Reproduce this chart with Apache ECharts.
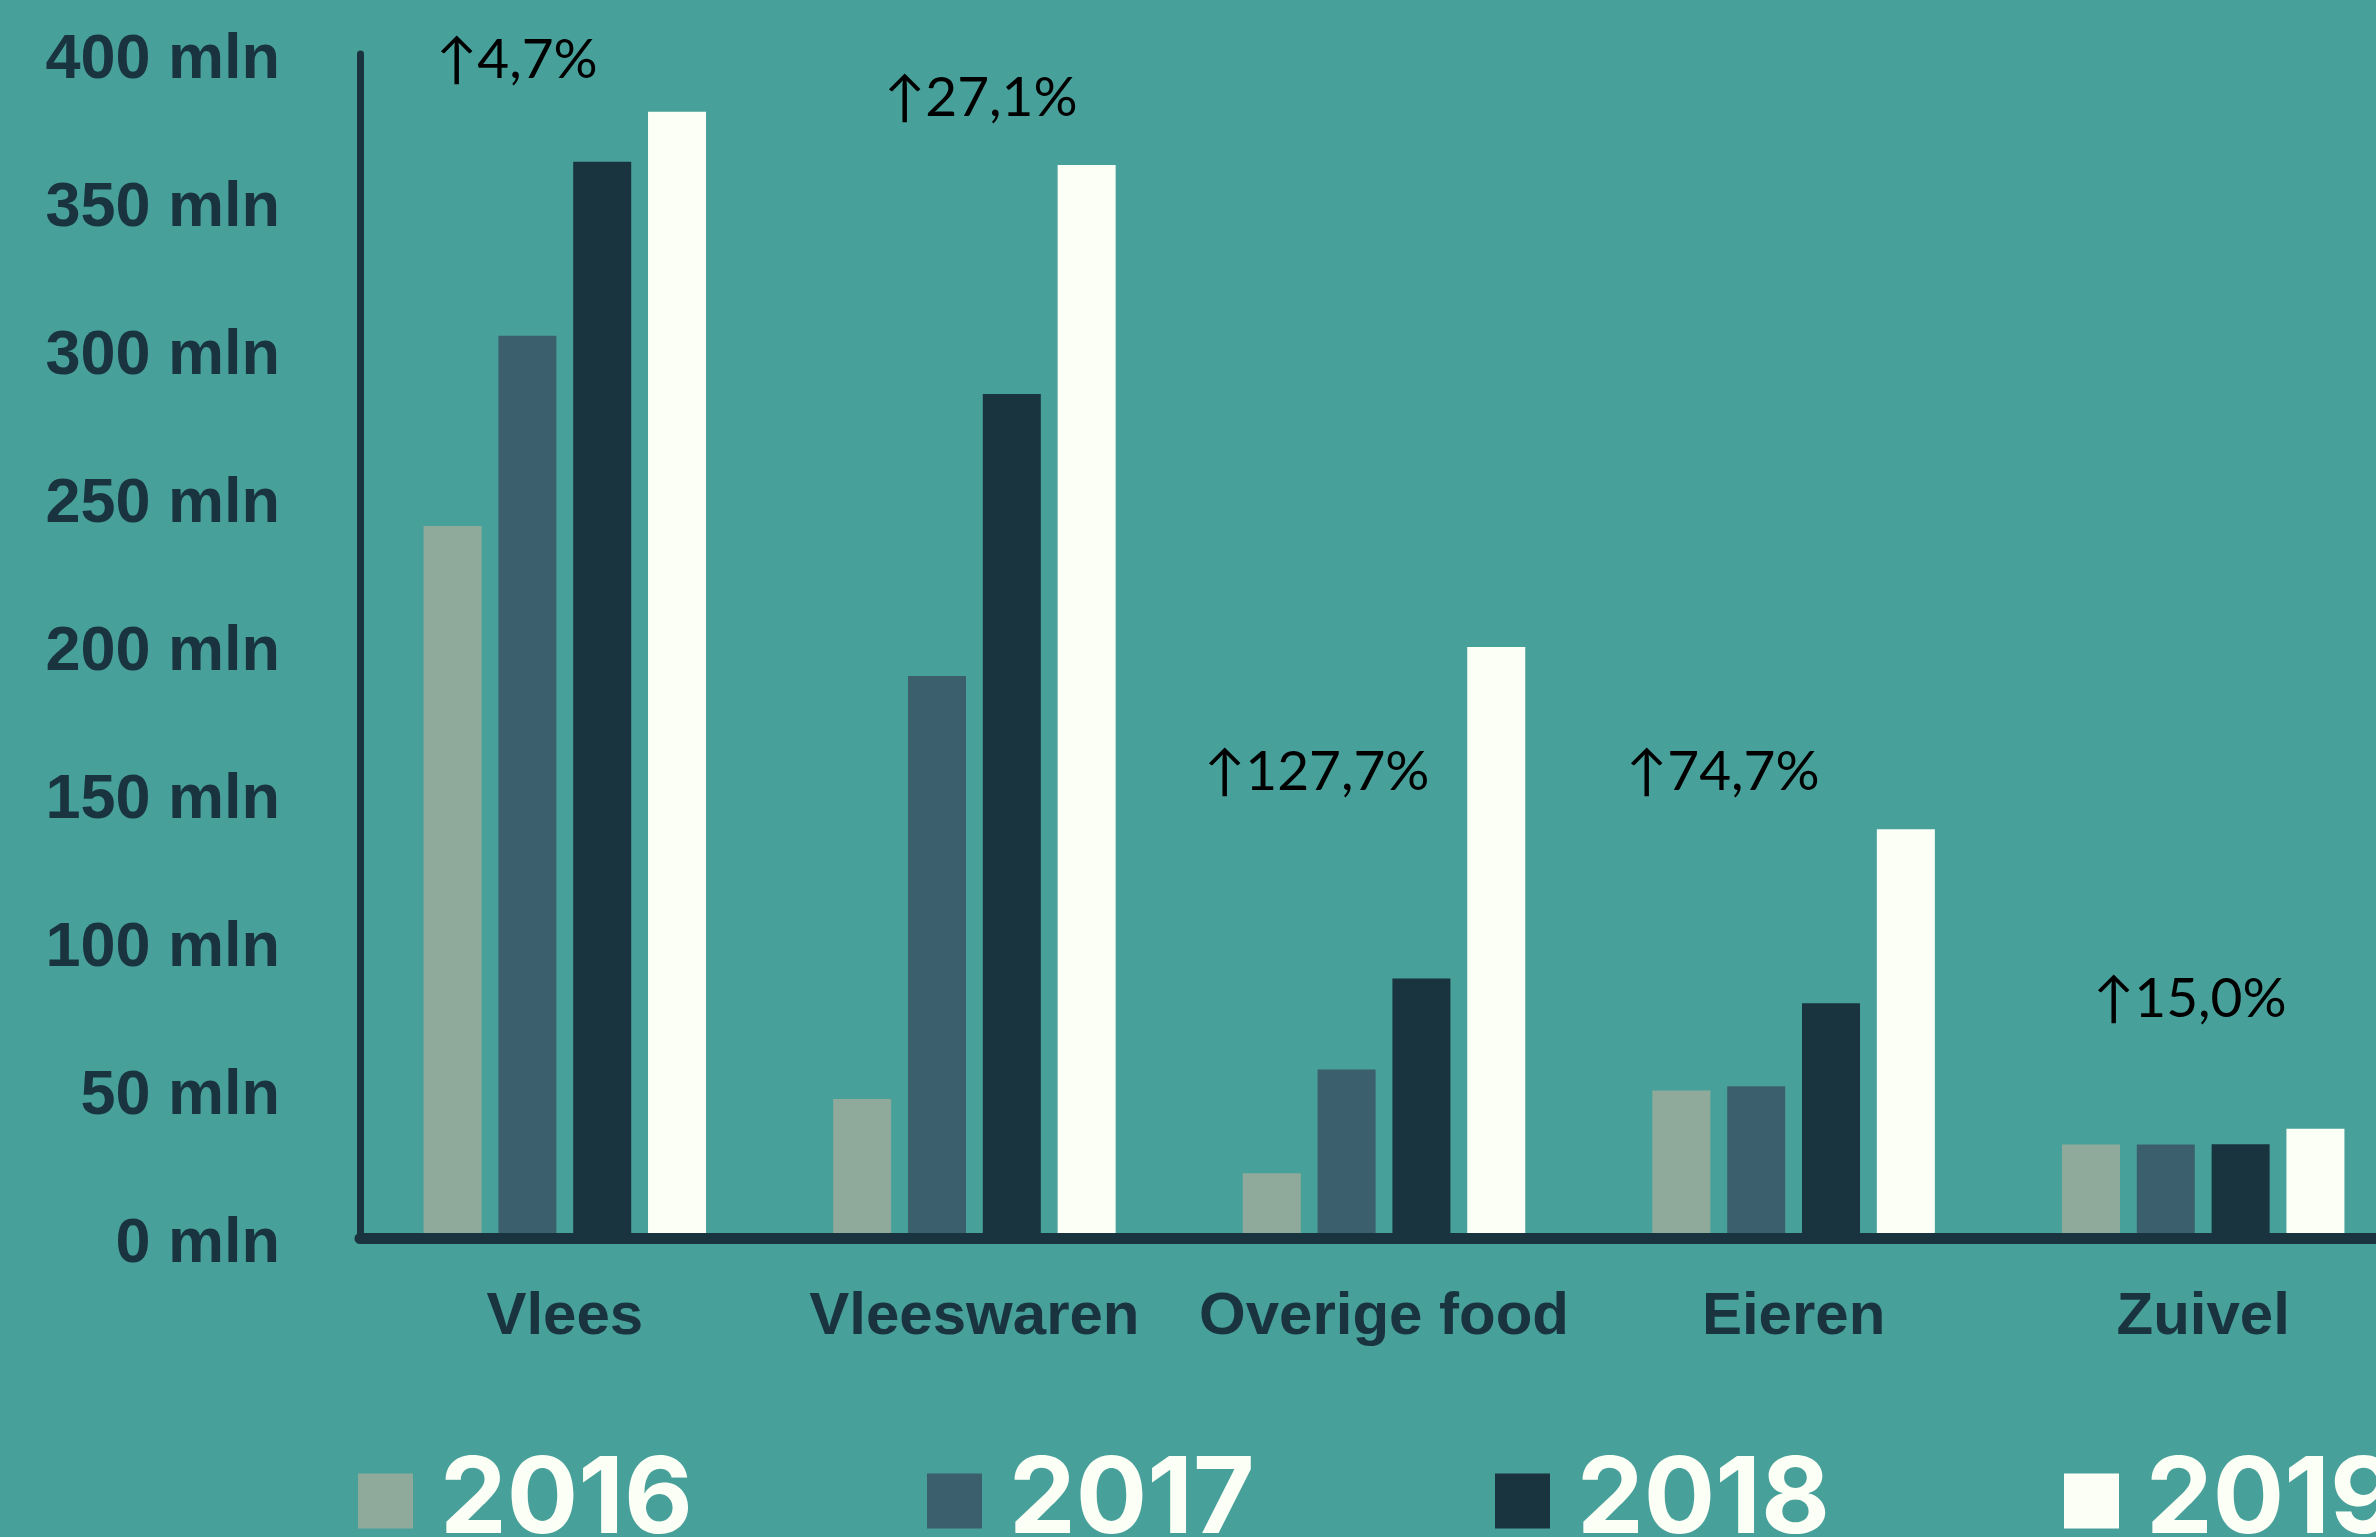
<!DOCTYPE html>
<html>
<head>
<meta charset="utf-8">
<script src="https://cdn.jsdelivr.net/npm/echarts/dist/echarts.min.js"></script>
<style>
html,body{margin:0;padding:0;background:#48A09B;}
#chart{width:2376px;height:1537px;}
</style>
</head>
<body>
<div id="chart"></div>
<script>
// ---- data ----
const categories = ['Vlees', 'Vleeswaren', 'Overige food', 'Eieren', 'Zuivel'];
const years = ['2016', '2017', '2018', '2019'];
const values2016 = [240.5, 47.0, 21.9, 49.8, 31.6];
const values2017 = [304.8, 189.9, 56.9, 51.3, 31.6];
const values2018 = [363.6, 285.1, 87.7, 79.3, 31.7];
const values2019 = [380.5, 362.5, 199.7, 138.1, 36.9];
const yTickValues = [0, 50, 100, 150, 200, 250, 300, 350, 400];
const yUnit = ' mln';
const annotations = ['\u21914,7%', '\u219127,1%', '\u2191127,7%', '\u219174,7%', '\u219115,0%'];

// ---- styles ----
const seriesValues = [values2016, values2017, values2018, values2019];
const colors = ['#8FAA9A', '#3C5F6E', '#19333F', '#FCFFF5'];
const dark = '#19333F';
const font = "'Liberation Sans', Arial, sans-serif";
const legendFont = "Inter, 'Liberation Sans', Arial, sans-serif";
const annoFont = "Lato, 'DejaVu Sans', sans-serif";
const annoPos = [[436, 60], [884, 98], [1204, 772], [1626, 772], [2093, 999]];
const legendLeft = 358, legendStep = 568.5;

const chart = echarts.init(document.getElementById('chart'), null, {renderer: 'canvas'});
const option = {
  backgroundColor: '#48A09B',
  animation: false,
  grid: {left: 360, top: 54, width: 2048, height: 1184, outerBoundsMode: 'none', containLabel: false},
  legend: years.map(function (y, i) {
    return {
      data: [y],
      left: Math.round(legendLeft + i * legendStep),
      top: 1448,
      width: 600,
      padding: 0,
      icon: 'rect',
      itemWidth: 55,
      itemHeight: 55,
      textStyle: {
        color: '#FCFFF5',
        fontFamily: legendFont,
        fontWeight: 'bold',
        fontSize: 106,
        padding: [0, 0, 0, 22]
      }
    };
  }),
  xAxis: {
    type: 'category',
    data: categories,
    z: 10,
    axisLine: {show: true, onZero: false, lineStyle: {color: dark, width: 11}},
    axisTick: {show: false},
    splitLine: {show: false},
    axisLabel: {
      interval: 0,
      color: dark,
      fontFamily: font,
      fontWeight: 'bold',
      fontSize: 60,
      margin: 49
    }
  },
  yAxis: {
    type: 'value',
    min: yTickValues[0],
    max: yTickValues[yTickValues.length - 1],
    interval: yTickValues[1] - yTickValues[0],
    z: 10,
    axisLine: {show: true, lineStyle: {color: dark, width: 7}},
    axisTick: {show: false},
    splitLine: {show: false},
    axisLabel: {
      formatter: function (v) { return '{t|' + v + yUnit + '}'; },
      color: dark,
      fontFamily: font,
      fontWeight: 'bold',
      fontSize: 63,
      margin: 80,
      rich: {
        t: {
          color: dark,
          fontFamily: font,
          fontWeight: 'bold',
          fontSize: 63,
          padding: [14, 0, 0, 0]
        }
      }
    }
  },
  series: years.map(function (y, i) {
    return {
      name: y,
      type: 'bar',
      data: seriesValues[i],
      barWidth: 58,
      barGap: '29%',
      itemStyle: {color: colors[i]}
    };
  }),
  graphic: annotations.map(function (t, i) {
    return {
      type: 'text',
      x: annoPos[i][0],
      y: annoPos[i][1],
      style: {
        text: t,
        fill: '#000000',
        font: '55px ' + annoFont,
        verticalAlign: 'middle',
        align: 'left'
      }
    };
  })
};
chart.setOption(option);
</script>
</body>
</html>
